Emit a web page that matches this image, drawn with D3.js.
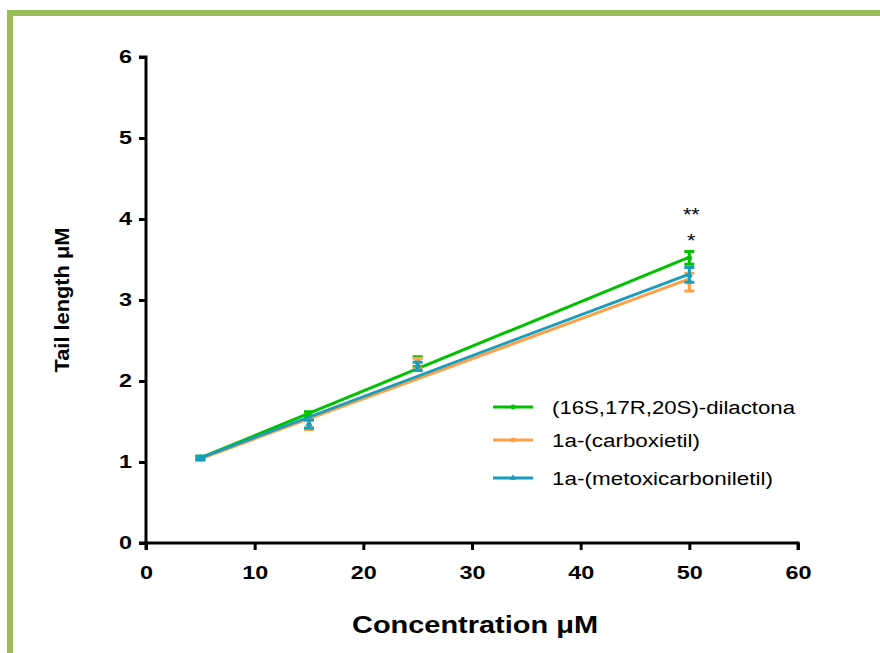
<!DOCTYPE html>
<html>
<head>
<meta charset="utf-8">
<script src="https://cdn.jsdelivr.net/npm/d3@7"></script>
<style>
  body { margin: 0; background: #fff; }
  svg text { font-family: Arial, "Liberation Sans", sans-serif; }
</style>
</head>
<body>
<div id="graphic"></div>
<script>
// data
const concentrations = [5, 15, 25, 50];
const seriesNames = ["(16S,17R,20S)-dilactona", "1a-(carboxietil)", "1a-(metoxicarboniletil)"];
const dilactonaMean = [1.05, 1.59, 2.24, 3.52];
const dilactonaErr = [0.02, 0.03, 0.06, 0.08];
const carboxietilMean = [1.04, 1.46, 2.22, 3.22];
const carboxietilErr = [0.02, 0.06, 0.06, 0.11];
const metoxiMean = [1.05, 1.47, 2.18, 3.31];
const metoxiErr = [0.02, 0.05, 0.05, 0.09];
// fitted line values at x = 5 and x = 50
const fitX = [5, 50];
const dilactonaFit = [1.05, 3.53];
const carboxietilFit = [1.04, 3.26];
const metoxiFit = [1.05, 3.32];
const xTicks = [0, 10, 20, 30, 40, 50, 60];
const yTicks = [0, 1, 2, 3, 4, 5, 6];
const stars = [{ x: 50, y: 3.98, t: "**" }, { x: 50, y: 3.66, t: "*" }];

const W = 880, H = 653;
const margin = { top: 57, left: 146, right: 82, bottom: 110 };
const width = W - margin.left - margin.right,
  height = H - margin.top - margin.bottom;

const colors = ["#00c000", "#ffa047", "#1a9cbb"];
const series = [
  { mean: dilactonaMean, err: dilactonaErr, fit: dilactonaFit, shape: d3.symbolCircle },
  { mean: carboxietilMean, err: carboxietilErr, fit: carboxietilFit, shape: d3.symbolSquare },
  { mean: metoxiMean, err: metoxiErr, fit: metoxiFit, shape: d3.symbolTriangle }
];

const root = d3.select("#graphic").append("svg")
  .attr("width", W)
  .attr("height", H);

root.append("rect").attr("width", W).attr("height", H).attr("fill", "#fff");

// green frame (runs off right and bottom)
root.append("rect")
  .attr("x", 10).attr("y", 13)
  .attr("width", W + 20).attr("height", H + 20)
  .attr("fill", "none")
  .attr("stroke", "#9bbb59")
  .attr("stroke-width", 6);

const svg = root.append("g")
  .attr("transform", `translate(${margin.left},${margin.top})`);

const x = d3.scaleLinear().domain([0, 60]).range([0, width]);
const y = d3.scaleLinear().domain([0, 6]).range([height, 0]);

const xAxis = d3.axisBottom(x).tickValues(xTicks).tickSize(7).tickFormat(d3.format("d"));
const yAxis = d3.axisLeft(y).tickValues(yTicks).tickSize(7).tickFormat(d3.format("d"));

const gx = svg.append("g")
  .attr("transform", `translate(0,${height})`)
  .call(xAxis);
const gy = svg.append("g").call(yAxis);

[gx, gy].forEach(g => {
  g.select(".domain").attr("stroke", "#000").attr("stroke-width", 3);
  g.selectAll(".tick line").attr("stroke", "#000").attr("stroke-width", 3);
  g.selectAll(".tick text")
    .attr("fill", "#000")
    .style("font-size", "18px")
    .style("font-weight", "bold");
});
gx.select(".domain").attr("d", `M0,7V0H${width}V7`);
gy.select(".domain").attr("d", `M-7,0H0V${height}H-7`);

// labels in the reference are drawn wide
gx.selectAll(".tick text")
  .attr("y", 23)
  .attr("dy", "0.71em")
  .attr("transform", "scale(1.3,1)");
gy.selectAll(".tick text")
  .attr("x", -14 / 1.3)
  .attr("transform", "scale(1.3,1)");

// axis titles
svg.append("text")
  .attr("x", 475 - margin.left)
  .attr("y", 633 - margin.top)
  .attr("text-anchor", "middle")
  .attr("textLength", 246)
  .attr("lengthAdjust", "spacingAndGlyphs")
  .style("font-size", "24px")
  .style("font-weight", "bold")
  .text("Concentration \u03bcM");

svg.append("text")
  .attr("transform", `translate(${69 - margin.left},${300 - margin.top}) rotate(-90)`)
  .attr("text-anchor", "middle")
  .attr("textLength", 145)
  .attr("lengthAdjust", "spacingAndGlyphs")
  .style("font-size", "21px")
  .style("font-weight", "bold")
  .text("Tail length \u03bcM");

const line = d3.line().x(d => x(d[0])).y(d => y(d[1]));

series.forEach((s, i) => {
  const g = svg.append("g");
  const c = colors[i];

  g.append("path")
    .datum(fitX.map((v, k) => [v, s.fit[k]]))
    .attr("d", line)
    .attr("fill", "none")
    .attr("stroke", c)
    .attr("stroke-width", 3);

  const pts = concentrations.map((v, k) => ({ x: v, m: s.mean[k], e: s.err[k] }));

  g.selectAll(".err")
    .data(pts)
    .enter().append("path")
    .attr("d", d => {
      const cx = x(d.x), t = y(d.m + d.e), b = y(d.m - d.e);
      return `M${cx - 5},${t}H${cx + 5}M${cx},${t}V${b}M${cx - 5},${b}H${cx + 5}`;
    })
    .attr("fill", "none")
    .attr("stroke", c)
    .attr("stroke-width", 3);

  g.selectAll(".pt")
    .data(pts)
    .enter().append("path")
    .attr("transform", d => `translate(${x(d.x)},${y(d.m)})`)
    .attr("d", d3.symbol().type(s.shape).size(22))
    .attr("fill", c);
});

// significance marks
svg.selectAll(".star")
  .data(stars)
  .enter().append("text")
  .attr("x", d => x(d.x) + 2)
  .attr("y", d => y(d.y))
  .attr("text-anchor", "middle")
  .attr("transform", d => `translate(${-(x(d.x) + 2) * 0.2},0) scale(1.2,1)`)
  .style("font-size", "18px")
  .text(d => d.t);

// legend
const legend = svg.append("g")
  .attr("transform", `translate(${493 - margin.left},${407 - margin.top})`);
const legendWidths = [243, 148, 221];

seriesNames.forEach((name, i) => {
  const row = legend.append("g").attr("transform", `translate(0,${[0, 33, 71][i]})`);
  row.append("line")
    .attr("x1", 0).attr("x2", 40)
    .attr("stroke", colors[i])
    .attr("stroke-width", 3);
  row.append("path")
    .attr("transform", "translate(20,0)")
    .attr("d", d3.symbol().type(series[i].shape).size(18))
    .attr("fill", colors[i]);
  row.append("text")
    .attr("x", 59)
    .attr("y", 7)
    .attr("textLength", legendWidths[i])
    .attr("lengthAdjust", "spacingAndGlyphs")
    .style("font-size", "18px")
    .text(name);
});
</script>
</body>
</html>
